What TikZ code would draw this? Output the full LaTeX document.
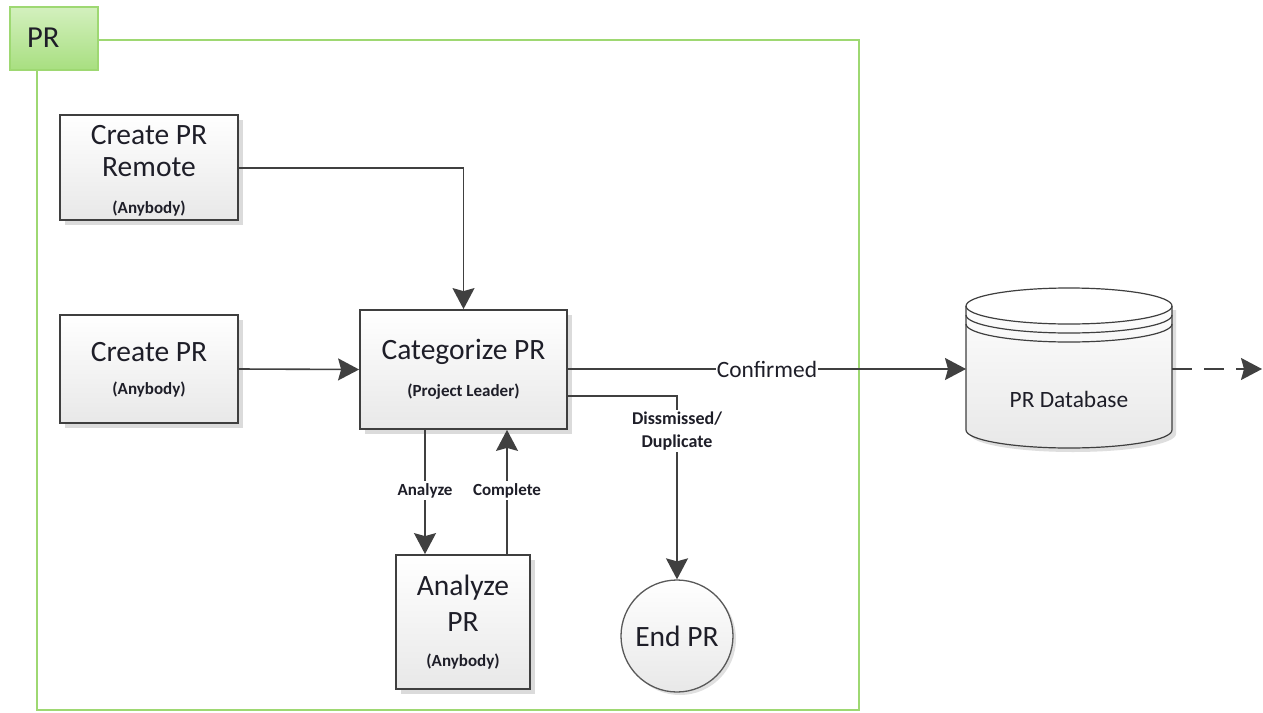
\documentclass[tikz,border=0pt]{standalone}
\usepackage{fontspec}
\setmainfont{Carlito}
\usetikzlibrary{arrows.meta,shadows}
\definecolor{linec}{HTML}{404040}
\definecolor{boxc}{HTML}{3F3F3F}
\definecolor{greenln}{HTML}{9ED872}
\definecolor{tabtop}{HTML}{D3F0BE}
\definecolor{tabbot}{HTML}{A8DF80}
\definecolor{txtc}{HTML}{1E1E28}
\tikzset{
  procbox/.style={draw=boxc, line width=1.8pt, top color=white, bottom color=black!9,
    drop shadow={shadow xshift=5pt, shadow yshift=-5pt, fill=black!14, opacity=1},
    inner sep=0pt},
  bigtxt/.style={font=\fontsize{29.5}{31}\selectfont, text=txtc, inner sep=0pt},
  smalltxt/.style={font=\fontsize{17}{19}\selectfont\bfseries, text=txtc, inner sep=0pt},
  lbl/.style={font=\fontsize{17}{23}\selectfont\bfseries, text=txtc, fill=white, inner sep=2pt, align=center},
  tipc/.style={-{Stealth[length=21pt,width=22pt,inset=3pt]}},
  conn/.style={draw=linec, line width=1.6pt, tipc},
}
\begin{document}
\begin{tikzpicture}[x=1pt,y=-1pt]
\useasboundingbox (0,0) rectangle (1263,712);
\fill[white] (0,0) rectangle (1263,712);

% green frame
\draw[greenln, line width=2pt] (37,40) rectangle (859,710);
\node[draw=greenln, line width=2pt, top color=tabtop, bottom color=tabbot,
  minimum width=88pt, minimum height=63pt, inner sep=0pt] (tab) at (54,38.5) {};
\node[bigtxt, font=\fontsize{30.5}{32}\selectfont, anchor=west] (tabtxt) at (27,38) {PR};

% boxes
\node[procbox, minimum width=178pt, minimum height=105pt] (remote) at (149,167.5) {};
\node[bigtxt] (remote1) at (149,135) {Create PR};
\node[bigtxt] (remote2) at (149,167) {Remote};
\node[smalltxt] (remote3) at (149,209) {(Anybody)};

\node[procbox, minimum width=178pt, minimum height=108pt] (create) at (149,369) {};
\node[bigtxt] (create1) at (149,352) {Create PR};
\node[smalltxt] (create2) at (149,390) {(Anybody)};

\node[procbox, minimum width=207pt, minimum height=119pt] (cat) at (463.5,369.5) {};
\node[bigtxt] (cat1) at (463.5,352) {Categorize PR};
\node[smalltxt] (cat2) at (463.5,392) {(Project Leader)};

\node[procbox, minimum width=134pt, minimum height=134pt] (ana) at (463,622) {};
\node[bigtxt] (ana1) at (463,588) {Analyze};
\node[bigtxt] (ana2) at (463,622) {PR};
\node[smalltxt] (ana3) at (463,662) {(Anybody)};

% end circle
\node[circle, draw=black!65, line width=1.3pt, top color=white, bottom color=black!9,
  minimum size=112pt, inner sep=0pt,
  drop shadow={shadow xshift=3pt, shadow yshift=-3pt, fill=black!12, opacity=1}] (endpr) at (677,636) {};
\node[bigtxt] (endtxt) at (677,636) {End PR};

% database cylinder
\fill[black!13] (970,310) -- (970,434)
  .. controls (970,443.9) and (1016.1,452) .. (1073,452)
  .. controls (1129.9,452) and (1176,443.9) .. (1176,434) -- (1176,310) -- cycle;
\path[top color=white, bottom color=black!9] (966,306) -- (966,430)
  .. controls (966,439.9) and (1012.1,448) .. (1069,448)
  .. controls (1125.9,448) and (1172,439.9) .. (1172,430) -- (1172,306)
  .. controls (1172,296.1) and (1125.9,288) .. (1069,288)
  .. controls (1012.1,288) and (966,296.1) .. (966,306) -- cycle;
\draw[boxc, line width=1.2pt, fill=white] (1069,306) ellipse [x radius=103, y radius=18];
\draw[boxc, line width=1.2pt] (966,315)
  .. controls (966,324.9) and (1012.1,333) .. (1069,333)
  .. controls (1125.9,333) and (1172,324.9) .. (1172,315);
\draw[boxc, line width=1.2pt] (966,324)
  .. controls (966,333.9) and (1012.1,342) .. (1069,342)
  .. controls (1125.9,342) and (1172,333.9) .. (1172,324);
\draw[boxc, line width=1.2pt] (966,306) -- (966,430)
  .. controls (966,439.9) and (1012.1,448) .. (1069,448)
  .. controls (1125.9,448) and (1172,439.9) .. (1172,430) -- (1172,306);
\coordinate (dbL) at (966,369);
\coordinate (dbR) at (1172,369);
\node[font=\fontsize{23.4}{26}\selectfont, text=txtc, inner sep=0pt] (dbtxt) at (1069,399) {PR Database};
\coordinate (dbEnd) at (1262,369);

% connectors
\draw[conn] (remote.east |- 0,168) -| (cat.north);
\draw[conn] (create.east) -- (cat.west);
\draw[conn] (cat.east |- 0,369) -- node[lbl, font=\fontsize{23.4}{26}\selectfont, inner sep=1pt, pos=0.5] (conf) {Confirmed} (dbL);
\draw[conn] (cat.east |- 0,396) -| node[lbl, font=\fontsize{18}{23}\selectfont\bfseries, pos=0.595] (dism) {Dissmissed/\\Duplicate} (endpr.north);
\draw[conn] (cat.south -| 425,0) -- node[lbl, pos=0.49] (analbl) {Analyze} (ana.north -| 425,0);
\draw[conn] (ana.north -| 507,0) -- node[lbl, pos=0.51] (complbl) {Complete} (cat.south -| 507,0);
\draw[draw=linec, line width=1.6pt, dash pattern=on 20pt off 12pt, tipc] (dbR) -- (dbEnd);
\end{tikzpicture}
\end{document}
